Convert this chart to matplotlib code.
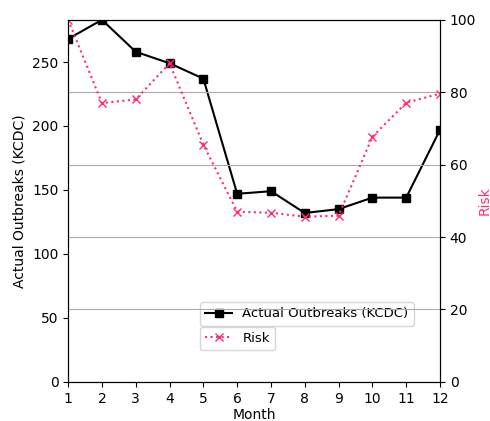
import matplotlib
matplotlib.use('Agg')
import matplotlib.pyplot as plt

months = [1, 2, 3, 4, 5, 6, 7, 8, 9, 10, 11, 12]
outbreaks = [268, 283, 258, 249, 237, 147, 149, 132, 135, 144, 144, 197]
risk = [100, 77, 78, 88, 65.5, 47, 46.7, 45.6, 45.9, 67.7, 77.1, 79.6]

pink = '#ff2d6f'

fig, ax1 = plt.subplots(figsize=(4.9, 4.21), dpi=100)
fig.subplots_adjust(left=0.139, right=0.898, top=0.953, bottom=0.093)

ax1.plot(months, outbreaks, color='black', marker='s', markersize=6,
         linewidth=1.5, label='Actual Outbreaks (KCDC)')
ax1.set_xlim(1, 12)
ax1.set_ylim(0, max(outbreaks))
ax1.set_xticks(months)
ax1.set_xlabel('Month', labelpad=2)
ax1.set_ylabel('Actual Outbreaks (KCDC)')
ax1.legend(loc='upper left', bbox_to_anchor=(0.355, 0.22), borderaxespad=0,
           fontsize=9.5)

ax2 = ax1.twinx()
ax2.plot(months, risk, color=pink, marker='x', markersize=6,
         linestyle=':', linewidth=1.5, label='Risk')
ax2.set_ylim(0, 100)
ax2.set_ylabel('Risk', color=pink, labelpad=1)
ax2.grid(True, axis='y', color='#aaaaaa', linewidth=0.8)
ax2.legend(loc='upper left', bbox_to_anchor=(0.355, 0.152), borderaxespad=0,
           fontsize=9.5)

fig.savefig('out.png', dpi=100)
